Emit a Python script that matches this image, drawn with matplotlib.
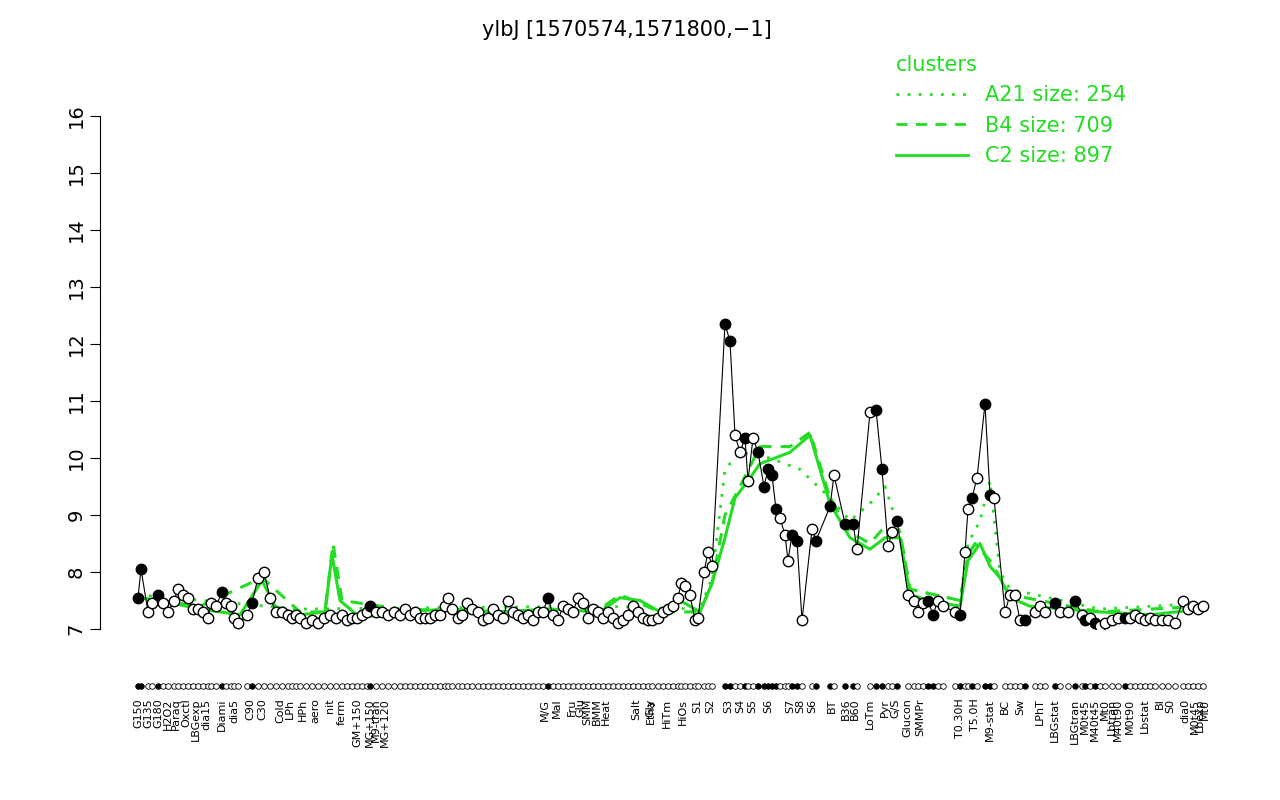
import matplotlib
matplotlib.use("Agg")
import matplotlib.pyplot as plt
from matplotlib.lines import Line2D

# sample positions (horizontal order coordinate), expression values, filled flag
pos = [138,141,148,152,158,163,168,174,178,183,188,193,198,203,208,211,216,222,226,231,234,238,247,252,258,264,270,276,282,288,292,296,300,306,312,318,324,330,336,342,347,352,357,362,367,370,376,382,388,394,400,405,410,415,420,425,430,435,440,445,448,452,458,462,467,472,478,483,488,493,498,503,508,513,518,523,528,533,538,543,548,553,558,563,568,573,578,583,588,593,598,603,608,613,618,623,628,633,638,643,648,652,658,663,668,673,678,681,685,690,695,698,704,708,712,725,730,735,740,745,748,753,758,764,768,772,776,780,785,788,792,797,802,812,816,830,834,845,853,857,870,876,882,888,892,897,908,914,918,923,928,933,938,943,955,960,965,968,972,977,985,990,994,1005,1010,1015,1020,1025,1035,1040,1045,1055,1060,1068,1075,1082,1085,1090,1095,1100,1105,1112,1118,1125,1130,1135,1140,1145,1150,1155,1162,1168,1175,1183,1188,1193,1198,1203]
vals = [7.55,8.05,7.3,7.45,7.6,7.45,7.3,7.5,7.7,7.6,7.55,7.35,7.35,7.3,7.2,7.45,7.4,7.65,7.45,7.4,7.2,7.1,7.25,7.45,7.9,8.0,7.55,7.3,7.3,7.25,7.2,7.25,7.2,7.1,7.15,7.1,7.2,7.25,7.2,7.25,7.15,7.2,7.2,7.25,7.3,7.4,7.3,7.3,7.25,7.3,7.25,7.35,7.25,7.3,7.2,7.2,7.2,7.25,7.25,7.4,7.55,7.35,7.2,7.25,7.45,7.35,7.3,7.15,7.2,7.35,7.25,7.2,7.5,7.3,7.25,7.2,7.25,7.15,7.3,7.3,7.55,7.25,7.15,7.4,7.35,7.3,7.55,7.45,7.2,7.35,7.3,7.2,7.3,7.2,7.1,7.15,7.25,7.4,7.3,7.2,7.15,7.15,7.2,7.3,7.35,7.4,7.55,7.8,7.75,7.6,7.15,7.2,8.0,8.35,8.1,12.35,12.05,10.4,10.1,10.35,9.6,10.35,10.1,9.5,9.8,9.7,9.1,8.95,8.65,8.2,8.65,8.55,7.15,8.75,8.55,9.15,9.7,8.85,8.85,8.4,10.8,10.85,9.8,8.45,8.7,8.9,7.6,7.5,7.3,7.45,7.5,7.25,7.5,7.4,7.3,7.25,8.35,9.1,9.3,9.65,10.95,9.35,9.3,7.3,7.6,7.6,7.15,7.15,7.3,7.4,7.3,7.45,7.3,7.3,7.5,7.25,7.15,7.2,7.1,7.05,7.1,7.15,7.2,7.2,7.2,7.25,7.2,7.15,7.2,7.15,7.15,7.15,7.1,7.5,7.35,7.4,7.35,7.4]
filled_idx = {0,1,4,17,23,45,80,115,116,119,122,123,124,125,126,130,131,134,135,137,138,141,142,145,150,151,155,158,160,161,167,171,174,176,178,183,199}

c2_x = [138,160,200,240,262,275,300,325,332,340,360,400,450,500,550,600,620,640,660,680,700,712,725,735,748,760,775,790,810,830,850,870,885,900,910,930,960,968,980,990,1000,1010,1030,1100,1150,1203]
c2_y = [7.55,7.5,7.35,7.25,7.85,7.4,7.25,7.3,8.3,7.5,7.2,7.3,7.35,7.3,7.35,7.3,7.55,7.5,7.3,7.5,7.3,7.8,8.6,9.3,9.6,9.9,10.0,10.1,10.4,9.2,8.6,8.4,8.6,8.6,7.6,7.5,7.4,8.2,8.5,8.1,7.9,7.55,7.4,7.3,7.25,7.35]
b4_x = [138,200,262,300,325,333,342,400,500,600,620,660,700,712,725,740,760,790,810,830,850,870,885,900,910,960,968,975,990,1000,1010,1100,1203]
b4_y = [7.55,7.4,7.9,7.3,7.3,8.5,7.5,7.35,7.3,7.35,7.6,7.3,7.3,7.8,9.0,9.5,10.2,10.2,10.45,9.3,8.7,8.5,8.8,8.7,7.7,7.5,8.3,8.5,8.2,7.9,7.6,7.3,7.4]
a21_x = [138,300,600,700,712,725,740,770,800,830,850,870,885,900,910,960,968,980,990,1000,1010,1100,1203]
a21_y = [7.6,7.35,7.4,7.35,7.9,9.8,10.1,10.0,9.8,9.3,8.9,9.2,9.5,8.7,7.7,7.5,8.5,8.9,9.6,8.0,7.7,7.35,7.45]

tick_labels = ["G150","G135","G180","H2O2","Paraq","Oxctl","LBGexp","dia15","Diami","dia5","C90","C30","Cold","LPh","HPh","aero","nit","ferm","GM+150","MG+150","M9-tran","MG+120","M/G","Mal","Fru","Glu","SMM","BMM","Heat","Salt","Etha","Gly","HiTm","HiOs","S1","S2","S3","S4","S5","S6","S7","S8","S6","BT","B36","B60","LoTm","Pyr","G/S","Glucon","SMMPr","T0.30H","T5.0H","M9-stat","BC","Sw","LPhT","LBGstat","LBGtran","M0t45","M40t45","Mt0","Lbtran","M40t90","M0t90","Lbstat","BI","S0","dia0","M0t45","Lbexp","Mt0"]
tick_pos = [138,148,158,168,176,186,196,206,222,234,250,262,280,290,303,315,330,342,357,370,376,385,545,557,572,580,587,597,606,636,651,650,667,683,697,710,728,740,752,768,790,800,812,832,846,855,870,885,895,907,920,960,975,990,1005,1020,1040,1055,1075,1085,1095,1105,1112,1118,1130,1145,1160,1170,1185,1195,1200,1205]

fig = plt.figure(figsize=(12.8, 8), dpi=100)
ax = fig.add_axes([100/1280, 171/800, 1115/1280, 513/800])
ax.set_xlim(100, 1215)
ax.set_ylim(7, 16)
green = "#22dd22"
ax.plot(c2_x, c2_y, color=green, lw=2.2, ls="-")
ax.plot(b4_x, b4_y, color=green, lw=2.2, ls=(0, (4, 3)))
ax.plot(a21_x, a21_y, color=green, lw=2.0, ls=(0, (1, 3)))
ax.plot(pos, vals, color="black", lw=0.8)
for i, (x, v) in enumerate(zip(pos, vals)):
    ax.plot(x, v, "o", ms=7.5, mec="black", mfc="black" if i in filled_idx else "white", mew=1)
for i, x in enumerate(pos):
    ax.plot(x, 6.0, "o", ms=4, mec="black", mfc="black" if i in filled_idx else "white", mew=0.6, clip_on=False)
for lab, x in zip(tick_labels, tick_pos):
    ax.text(x, 5.78, lab, rotation=90, ha="center", va="top", fontsize=8)
for s in ["top", "right", "bottom"]:
    ax.spines[s].set_visible(False)
ax.set_xticks([])
ax.set_yticks(range(7, 17))
ax.set_yticklabels([str(v) for v in range(7, 17)], rotation=90, va="center", fontsize=14)
ax.tick_params(axis="y", length=7)
fig.text(0.49, 0.963, "ylbJ [1570574,1571800,\u22121]", ha="center", va="center", fontsize=15)
handles = [Line2D([], [], color=green, lw=2, ls=(0, (1, 3))),
           Line2D([], [], color=green, lw=2, ls=(0, (4, 3))),
           Line2D([], [], color=green, lw=2, ls="-")]
leg = fig.legend(handles, ["A21 size: 254", "B4 size: 709", "C2 size: 897"], title="clusters",
                 loc="upper left", bbox_to_anchor=(0.685, 0.955), frameon=False, fontsize=15,
                 title_fontsize=15, handlelength=3.5, labelcolor=green)
leg.get_title().set_color(green)
leg._legend_box.align = "left"
fig.savefig("out.png")
